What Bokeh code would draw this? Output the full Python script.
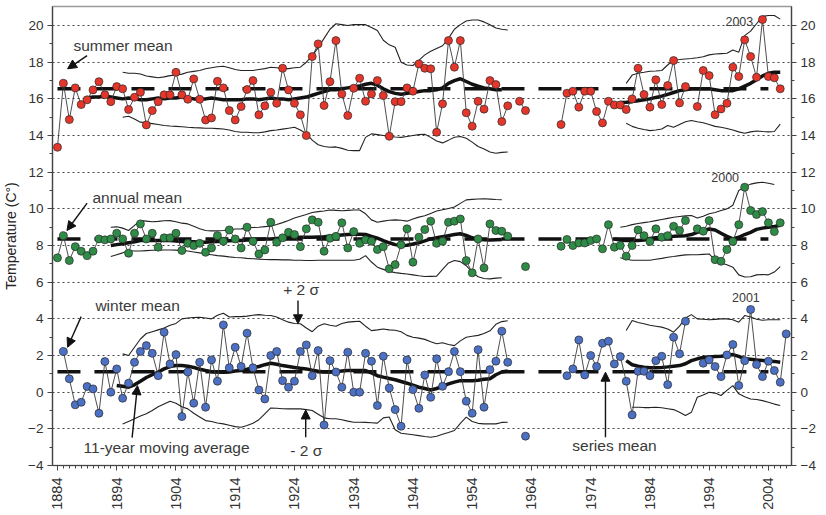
import math
import numpy as np
from bokeh.plotting import figure
from bokeh.models import Range1d, LinearAxis, FixedTicker, Label, Arrow, NormalHead
from bokeh.embed import file_html
from bokeh.resources import INLINE

N = None
years = list(range(1884, 2008))

summer = [13.36, 16.85, 14.87, 16.6, 15.69, 15.95, 16.49, 16.94, 16.22, 15.85,
          16.67, 16.55, 15.42, 16.09, 16.36, 14.58, 15.36, 15.85, 16.22, 16.22,
          17.45, 16.22, 15.98, 17.09, 15.98, 14.85, 14.96, 16.96, 16.6, 15.36,
          14.85, 15.58, 16.51, 17.0, 15.13, 15.62, 16.36, 15.76, 17.67, 16.49,
          15.76, 15.13, 14.0, 18.31, 19.0, 15.64, 16.94, 19.18, 16.27, 15.09,
          16.58, 17.13, 15.87, 16.27, 17.0, 16.18, 13.96, 15.85, 15.85, 16.6,
          16.42, 17.91, 17.67, 17.64, 14.18, 15.73, 19.18, 17.73, 19.18, 15.24,
          14.51, 15.87, 15.44, 17.0, 16.78, 14.76, 15.62, N, 15.87, 15.36,
          N, N, N, N, N, 14.6, 16.31, 16.42, 15.55, 16.42,
          16.42, 15.31, 14.69, 15.87, 15.67, 15.67, 15.42, 16.0, 17.67, 16.24,
          15.55, 17.04, 15.69, 16.73, 18.09, 15.78, 16.67, N, 15.58, 17.55,
          17.27, 15.14, 15.45, 15.76, 17.73, 17.22, 19.22, 18.31, 17.18, 20.33,
          17.22, 17.15, 16.55, N]

annual = [7.33, 8.54, 7.18, 7.94, 7.69, 7.45, 7.69, 8.36, 8.31, 8.36,
          8.67, 8.36, 7.58, 8.67, 9.18, 8.36, 8.67, 7.91, 8.42, 8.42,
          8.67, 7.73, 8.12, 8.0, 8.12, 7.63, 7.87, 8.54, 8.23, 8.85,
          8.36, 7.87, 9.0, 8.23, 7.54, 7.76, 9.27, 8.18, 8.42, 8.72,
          8.6, 7.94, 8.91, 9.4, 9.27, 7.69, 8.4, 8.5, 9.24, 7.87,
          8.76, 8.12, 8.31, 8.23, 7.78, 7.94, 6.73, 6.96, 8.04, 8.91,
          7.09, 8.45, 8.87, 9.33, 8.12, 8.23, 9.27, 9.33, 9.45, 7.18,
          6.51, 8.36, 6.78, 9.18, 8.82, 8.78, 8.51, N, N, 6.85,
          N, N, N, N, N, 7.96, 8.33, 8.0, 8.14, 8.14,
          8.27, 8.36, 7.82, 9.14, 7.91, 8.0, 7.42, 8.0, 8.85, 8.54,
          8.22, 8.91, 8.45, 8.54, 9.05, 8.82, 9.36, N, 8.91, 8.78,
          9.36, 7.23, 7.14, 7.78, 8.22, 9.14, 11.18, 9.91, 9.69, 9.85,
          9.24, 8.76, 9.24, N]

winter = [N, 2.22, 0.73, -0.69, -0.55, 0.31, 0.18, -1.15, 1.67, 0.0,
          1.27, -0.33, 0.49, 1.63, 2.22, 2.54, 2.12, 0.9, 3.27, 1.54,
          2.05, -1.33, 1.1, -0.6, 1.63, -0.82, 1.76, 0.6, 3.67, 1.33,
          2.45, 1.4, 3.22, 1.33, 0.12, -0.37, 2.0, 2.22, 0.63, 0.27,
          0.6, 2.22, 2.58, 0.9, 2.27, -1.79, 1.72, 1.1, 0.27, 2.18,
          0.0, 0.0, 2.12, 1.69, -0.73, 1.96, 0.23, -0.95, -1.86, 1.76,
          0.14, -0.88, 0.94, -0.28, 1.82, 0.32, 1.12, 2.22, 1.12, -0.49,
          -1.15, 2.32, -0.82, 1.23, 1.69, 3.33, 1.63, N, N, -2.4,
          N, N, N, N, N, N, 0.9, 1.27, 2.85, 0.94,
          2.0, 1.4, 2.67, 2.78, 1.54, 1.94, 0.6, -1.24, 1.14, 1.14,
          0.9, 1.72, 1.96, 0.41, 3.0, 2.09, 3.87, N, N, 1.58,
          1.76, 1.4, 0.85, 2.03, 2.6, 0.36, 1.72, 4.51, 1.51, 0.85,
          1.69, 1.18, 0.54, 3.18]

# series means (dashed) and their span
mean_values = [16.55, 8.35, 1.12]
mean_span = [1884, 2004]

# 11-year moving averages
sum_ma1_years = list(range(1889, 1960))
sum_ma1 = [16.05, 16.1, 16.1, 16.15, 16.1, 16.05, 16.0, 16.05, 16.0, 15.95,
           15.95, 16.0, 16.05, 16.0, 16.05, 16.05, 16.1, 16.05, 16.0, 16.0,
           16.0, 16.05, 16.0, 15.95, 15.95, 15.95, 15.95, 16.0, 16.0, 15.95,
           16.0, 16.05, 16.0, 16.0, 15.95, 16.0, 16.05, 16.1, 16.2, 16.3,
           16.4, 16.5, 16.5, 16.55, 16.6, 16.65, 16.7, 16.8, 16.85, 16.75,
           16.55, 16.4, 16.3, 16.25, 16.3, 16.35, 16.4, 16.45, 16.45, 16.5,
           16.6, 16.85, 17.0, 17.1, 16.95, 16.8, 16.7, 16.6, 16.55, 16.5,
           16.5]
sum_ma2_years = list(range(1979, 2007))
sum_ma2 = [15.8, 15.82, 15.85, 15.9, 15.95, 16.0, 16.08, 16.15, 16.25, 16.35,
           16.45, 16.5, 16.55, 16.55, 16.55, 16.55, 16.5, 16.45, 16.45, 16.45,
           16.55, 16.7, 16.85, 17.05, 17.25, 17.4, 17.45, 17.45]

ann_ma1_years = list(range(1893, 1960))
ann_ma1 = [8.0, 8.05, 8.1, 8.15, 8.2, 8.27, 8.27, 8.28, 8.28, 8.27,
           8.27, 8.25, 8.22, 8.2, 8.2, 8.18, 8.18, 8.2, 8.22, 8.24,
           8.26, 8.27, 8.27, 8.3, 8.32, 8.34, 8.35, 8.36, 8.38, 8.4,
           8.42, 8.44, 8.45, 8.45, 8.45, 8.47, 8.48, 8.5, 8.55, 8.58,
           8.6, 8.62, 8.62, 8.6, 8.5, 8.4, 8.27, 8.15, 8.05, 8.0,
           8.02, 8.08, 8.15, 8.25, 8.36, 8.42, 8.48, 8.54, 8.6, 8.64,
           8.55, 8.42, 8.35, 8.31, 8.3, 8.32, 8.33]
ann_ma2_years = list(range(1978, 2007))
ann_ma2 = [8.36, 8.3, 8.27, 8.27, 8.28, 8.3, 8.38, 8.42, 8.45, 8.49,
           8.5, 8.52, 8.54, 8.6, 8.72, 8.82, 8.9, 8.85, 8.67, 8.5,
           8.36, 8.45, 8.6, 8.72, 8.88, 8.95, 9.0, 9.04, 9.1]

win_ma1_years = list(range(1894, 1961))
win_ma1 = [0.36, 0.32, 0.27, 0.4, 0.6, 0.8, 0.95, 1.1, 1.27, 1.4,
           1.45, 1.45, 1.42, 1.35, 1.25, 1.18, 1.12, 1.1, 1.09, 1.1,
           1.15, 1.18, 1.25, 1.33, 1.4, 1.5, 1.58, 1.52, 1.45, 1.4,
           1.35, 1.3, 1.27, 1.2, 1.14, 1.1, 1.1, 1.12, 1.15, 1.18,
           1.18, 1.18, 1.18, 1.05, 0.9, 0.82, 0.75, 0.68, 0.58, 0.49,
           0.38, 0.27, 0.2, 0.12, 0.2, 0.32, 0.45, 0.55, 0.63, 0.63,
           0.63, 0.65, 0.7, 0.73, 0.95, 1.1, 1.15]
win_ma2_years = list(range(1980, 2007))
win_ma2 = [1.72, 1.5, 1.42, 1.36, 1.33, 1.33, 1.35, 1.38, 1.42, 1.45,
           1.55, 1.72, 1.82, 1.9, 1.92, 1.94, 1.96, 2.0, 2.05, 1.95,
           1.82, 1.8, 1.76, 1.73, 1.7, 1.68, 1.63]

# +/- 2 sigma envelopes
sum_env1_years = list(range(1895, 1961))
sum_up1 = [17.45, 17.4, 17.4, 17.36, 17.25, 17.2, 17.15, 17.2, 17.27, 17.3,
           17.35, 17.45, 17.5, 17.55, 17.64, 17.7, 17.75, 17.78, 17.7, 17.6,
           17.55, 17.55, 17.55, 17.6, 17.65, 17.73, 17.7, 17.65, 17.65, 17.7,
           17.73, 18.0, 18.35, 18.8, 19.3, 19.8, 20.1, 20.05, 20.0, 20.05,
           20.05, 20.05, 19.9, 19.73, 19.2, 18.95, 18.82, 18.0, 17.85, 17.82,
           18.1, 18.4, 18.6, 18.75, 18.9, 19.3, 19.8, 20.05, 20.25, 20.3,
           20.3, 20.2, 20.05, 19.87, 19.8, 19.76]
sum_lo1 = [15.0, 15.05, 14.9, 14.73, 14.7, 14.65, 14.6, 14.55, 14.52, 14.5,
           14.48, 14.45, 14.43, 14.42, 14.4, 14.4, 14.38, 14.36, 14.3, 14.22,
           14.18, 14.18, 14.15, 14.15, 14.2, 14.27, 14.3, 14.35, 14.4, 14.45,
           14.3, 14.1, 13.75, 13.5, 13.4, 13.36, 13.38, 13.3, 13.2, 13.18,
           13.18, 13.9, 14.09, 14.05, 14.0, 13.95, 13.92, 13.9, 13.95, 14.0,
           14.05, 14.07, 13.9, 13.7, 13.6, 13.75, 13.91, 13.95, 13.85, 13.64,
           13.4, 13.27, 13.1, 13.03, 13.08, 13.1]
sum_env2_years = list(range(1980, 2007))
sum_up2 = [16.85, 17.3, 17.4, 17.45, 17.51, 17.52, 17.55, 17.85, 18.13, 18.15,
           18.18, 18.2, 18.24, 18.3, 18.4, 18.45, 18.47, 18.49, 18.67, 18.55,
           19.45, 19.7, 20.1, 20.5, 20.55, 20.55, 20.35]
sum_lo2 = [14.67, 14.5, 14.4, 14.33, 14.27, 14.3, 14.36, 14.55, 14.45, 14.6,
           14.75, 14.82, 14.75, 14.7, 14.6, 14.5, 14.45, 14.38, 14.3, 14.2,
           14.13, 14.2, 14.25, 14.22, 14.2, 14.22, 14.62]

ann_env1_years = list(range(1893, 1960))
ann_up1 = [9.0, 9.02, 8.95, 8.82, 9.1, 9.36, 9.33, 9.3, 9.32, 9.35,
           9.36, 9.3, 9.22, 9.18, 9.05, 8.92, 8.82, 8.8, 8.8, 8.82,
           8.86, 8.9, 8.91, 8.95, 8.98, 9.0, 9.03, 9.06, 9.15, 9.25,
           9.36, 9.5, 9.6, 9.69, 9.8, 9.85, 9.88, 9.94, 9.92, 9.9,
           9.92, 9.94, 9.94, 9.73, 9.4, 9.27, 9.33, 9.38, 9.4, 9.38,
           9.33, 9.45, 9.55, 9.62, 9.75, 9.88, 9.95, 10.02, 10.1, 10.3,
           10.49, 10.52, 10.54, 10.55, 10.53, 10.51, 10.5]
ann_lo1 = [7.4, 7.5, 7.6, 7.73, 7.7, 7.7, 7.72, 7.74, 7.75, 7.76,
           7.76, 7.75, 7.72, 7.7, 7.65, 7.6, 7.54, 7.5, 7.45, 7.42,
           7.38, 7.35, 7.33, 7.3, 7.28, 7.26, 7.24, 7.23, 7.23, 7.22,
           7.22, 7.2, 7.2, 7.18, 7.18, 7.2, 7.2, 7.2, 7.2, 7.2,
           7.2, 7.2, 7.25, 7.45, 7.1, 6.82, 6.7, 6.58, 6.52, 6.48,
           6.45, 6.4, 6.35, 6.31, 6.32, 6.33, 6.7, 7.05, 7.18, 7.12,
           6.9, 6.55, 6.3, 6.2, 6.18, 6.22, 6.24]
ann_env2_years = list(range(1979, 2007))
ann_up2 = [9.0, 9.05, 9.14, 9.2, 9.25, 9.3, 9.36, 9.42, 9.48, 9.54,
           9.58, 9.62, 9.64, 9.5, 9.6, 9.73, 9.8, 9.91, 10.0, 10.2,
           11.0, 11.2, 11.35, 11.42, 11.45, 11.4, 11.33, N]
ann_lo2 = [7.33, 7.25, 7.2, 7.2, 7.2, 7.2, 7.25, 7.3, 7.36, 7.4,
           7.45, 7.49, 7.5, 7.5, 7.52, 7.54, 7.2, 7.05, 6.95, 6.82,
           6.4, 6.28, 6.3, 6.4, 6.42, 6.4, 6.55, 6.85]

win_env1_years = list(range(1895, 1961))
win_up1 = [2.09, 2.0, 2.45, 2.9, 3.2, 3.3, 3.4, 3.5, 3.65, 3.75,
           4.0, 4.05, 4.07, 4.09, 4.05, 4.0, 4.2, 4.31, 4.1, 4.12,
           4.12, 4.15, 4.2, 4.23, 4.2, 4.18, 4.1, 3.95, 3.82, 3.75,
           3.73, 3.5, 3.3, 3.6, 3.73, 3.65, 3.6, 3.75, 3.82, 3.85,
           3.87, 3.6, 3.36, 3.4, 3.45, 3.4, 3.38, 3.3, 3.1, 3.0,
           2.95, 2.88, 2.75, 2.64, 2.7, 2.6, 2.54, 2.8, 3.0, 3.05,
           3.1, 3.2, 3.35, 3.7, 3.85, 3.9]
win_lo1 = [-1.73, -1.6, -1.45, -1.3, -1.18, -1.0, -0.8, -0.65, -0.5, -0.6,
           -0.8, -0.91, -1.15, -1.35, -1.55, -1.6, -1.68, -1.73, -1.8, -1.88,
           -1.91, -1.82, -1.7, -1.5, -1.18, -0.86, -0.88, -0.9, -0.91, -0.91,
           -0.91, -0.95, -1.0, -1.2, -1.4, -1.45, -1.45, -1.5, -1.58, -1.64,
           -1.64, -1.65, -1.67, -1.69, -1.4, -1.35, -2.05, -2.24, -2.28, -2.32,
           -2.37, -2.42, -2.46, -2.4, -2.3, -2.2, -2.09, -1.7, -1.36, -1.6,
           -1.7, -1.73, -1.73, -1.73, -1.65, -1.64]
win_env2_years = list(range(1980, 2007))
win_up2 = [3.36, 3.91, 3.8, 3.73, 3.65, 3.6, 3.55, 3.45, 3.27, 3.6,
           4.05, 4.23, 4.0, 3.98, 3.95, 3.97, 4.0, 4.0, 3.95, 3.82,
           4.18, 4.1, 3.98, 3.92, 3.95, 3.95, 3.95]
win_lo2 = [N, -0.82, -0.82, -0.84, -0.84, -0.82, -0.85, -0.9, -0.95, -1.1,
           -1.27, -1.1, -0.28, -0.15, 0.0, -0.05, -0.18, 0.1, 0.36, -0.09,
           -0.25, -0.37, -0.4, -0.46, -0.55, -0.65, -0.73]

y_ticks = list(range(-4, 21, 2))
x_ticks = list(range(1884, 2005, 10))

COL_SUMMER = "#e5362b"
COL_ANNUAL = "#2f8c46"
COL_WINTER = "#4c70c4"
TXT = "#3a3a3a"
FONT = "Liberation Sans"


def arr(v):
    return np.array([np.nan if a is None else a for a in v], dtype=float)


p = figure(frame_width=739, frame_height=459,
           x_range=Range1d(1883.16, 2007.9), y_range=Range1d(-4, 21.04),
           output_backend="svg", toolbar_location=None,
           min_border_left=52, min_border_right=30, min_border_top=6,
           min_border_bottom=46, background_fill_color="white",
           border_fill_color="white")
p.outline_line_color = "#9a9a9a"
p.outline_line_width = 1.5

# axes
left = p.yaxis[0]
bottom = p.xaxis[0]
bottom.ticker = FixedTicker(ticks=x_ticks, minor_ticks=list(range(1883, 2008)))
left.ticker = FixedTicker(ticks=y_ticks, minor_ticks=list(range(-3, 21, 2)))
right = LinearAxis(ticker=FixedTicker(ticks=y_ticks, minor_ticks=list(range(-3, 21, 2))))
p.add_layout(right, "right")
for ax in [bottom, left, right]:
    ax.axis_line_color = "#444444"
    ax.axis_line_width = 1.2
    ax.major_tick_line_color = "#444444"
    ax.minor_tick_line_color = "#444444"
    ax.major_tick_in = 0
    ax.minor_tick_in = 0
    ax.major_tick_out = 5
    ax.minor_tick_out = 3
    ax.major_label_text_font = FONT
    ax.major_label_text_color = "#333333"
    ax.major_label_text_font_size = "13.5px"
    ax.major_label_standoff = 4
bottom.major_label_orientation = math.pi / 2
bottom.major_label_text_font_size = "14.5px"
bottom.major_label_standoff = 7
left.axis_label = "Temperature (C°)"
left.axis_label_text_font = FONT
left.axis_label_text_font_style = "normal"
left.axis_label_text_font_size = "14px"
left.axis_label_text_color = "#222222"
left.axis_label_standoff = 6
p.xgrid.grid_line_color = None
p.ygrid.grid_line_color = "#444444"
p.ygrid.grid_line_dash = "2 3"
p.ygrid.grid_line_width = 1

yrs = np.array(years, dtype=float)

# envelopes
for ey, up, lo in [(sum_env1_years, sum_up1, sum_lo1), (sum_env2_years, sum_up2, sum_lo2),
                   (ann_env1_years, ann_up1, ann_lo1), (ann_env2_years, ann_up2, ann_lo2),
                   (win_env1_years, win_up1, win_lo1), (win_env2_years, win_up2, win_lo2)]:
    p.line(ey, arr(up), line_color="#222222", line_width=1.1)
    p.line(ey, arr(lo), line_color="#222222", line_width=1.1)

# series means
for m in mean_values:
    p.line(mean_span, [m, m], line_color="#111111", line_width=3.5, line_dash="23 14")

# moving averages
for my, mv in [(sum_ma1_years, sum_ma1), (sum_ma2_years, sum_ma2),
               (ann_ma1_years, ann_ma1), (ann_ma2_years, ann_ma2),
               (win_ma1_years, win_ma1), (win_ma2_years, win_ma2)]:
    p.line(my, mv, line_color="#111111", line_width=3.5)

# observed series
for vals, col in [(summer, COL_SUMMER), (annual, COL_ANNUAL), (winter, COL_WINTER)]:
    v = arr(vals)
    p.line(yrs, v, line_color="#3a3a3a", line_width=0.9)
    ok = ~np.isnan(v)
    p.scatter(yrs[ok], v[ok], size=8, fill_color=col, line_color="#2a2a2a", line_width=0.7)

# annotations
labels = [
    ("summer mean", 1886.7, 18.91, "left", "15.5px"),
    ("annual mean", 1889.9, 10.63, "left", "15.5px"),
    ("winter mean", 1890.4, 4.72, "left", "15.5px"),
    ("11-year moving average", 1888.4, -3.0, "left", "15.5px"),
    ("- 2 σ", 1923.3, -3.19, "left", "15.5px"),
    ("+ 2 σ", 1922.1, 5.58, "left", "15.5px"),
    ("series mean", 1970.9, -2.91, "left", "15.5px"),
    ("2003", 1999.1, 20.23, "center", "12.5px"),
    ("2000", 1996.7, 11.72, "center", "12.5px"),
    ("2001", 2000.2, 5.14, "center", "12.5px"),
]
for t, x, y, al, fs in labels:
    p.add_layout(Label(x=x, y=y, text=t, text_align=al, text_baseline="middle",
                       text_font=FONT, text_font_size=fs, text_color=TXT))

arrows = [
    (1889.0, 18.36, 1885.7, 17.64),
    (1889.0, 10.31, 1885.6, 8.82),
    (1888.0, 4.12, 1885.7, 2.45),
    (1896.6, -2.48, 1897.5, 0.36),
    (1925.9, -2.46, 1925.9, -0.97),
    (1924.6, 5.0, 1924.6, 3.73),
    (1976.5, -2.46, 1976.5, 1.09),
]
for xs, ys, xe, ye in arrows:
    p.add_layout(Arrow(end=NormalHead(size=9, fill_color="#111111", line_color="#111111"),
                       x_start=xs, y_start=ys, x_end=xe, y_end=ye,
                       line_color="#111111", line_width=1.4))

open("out.html", "w").write(file_html(p, INLINE))
